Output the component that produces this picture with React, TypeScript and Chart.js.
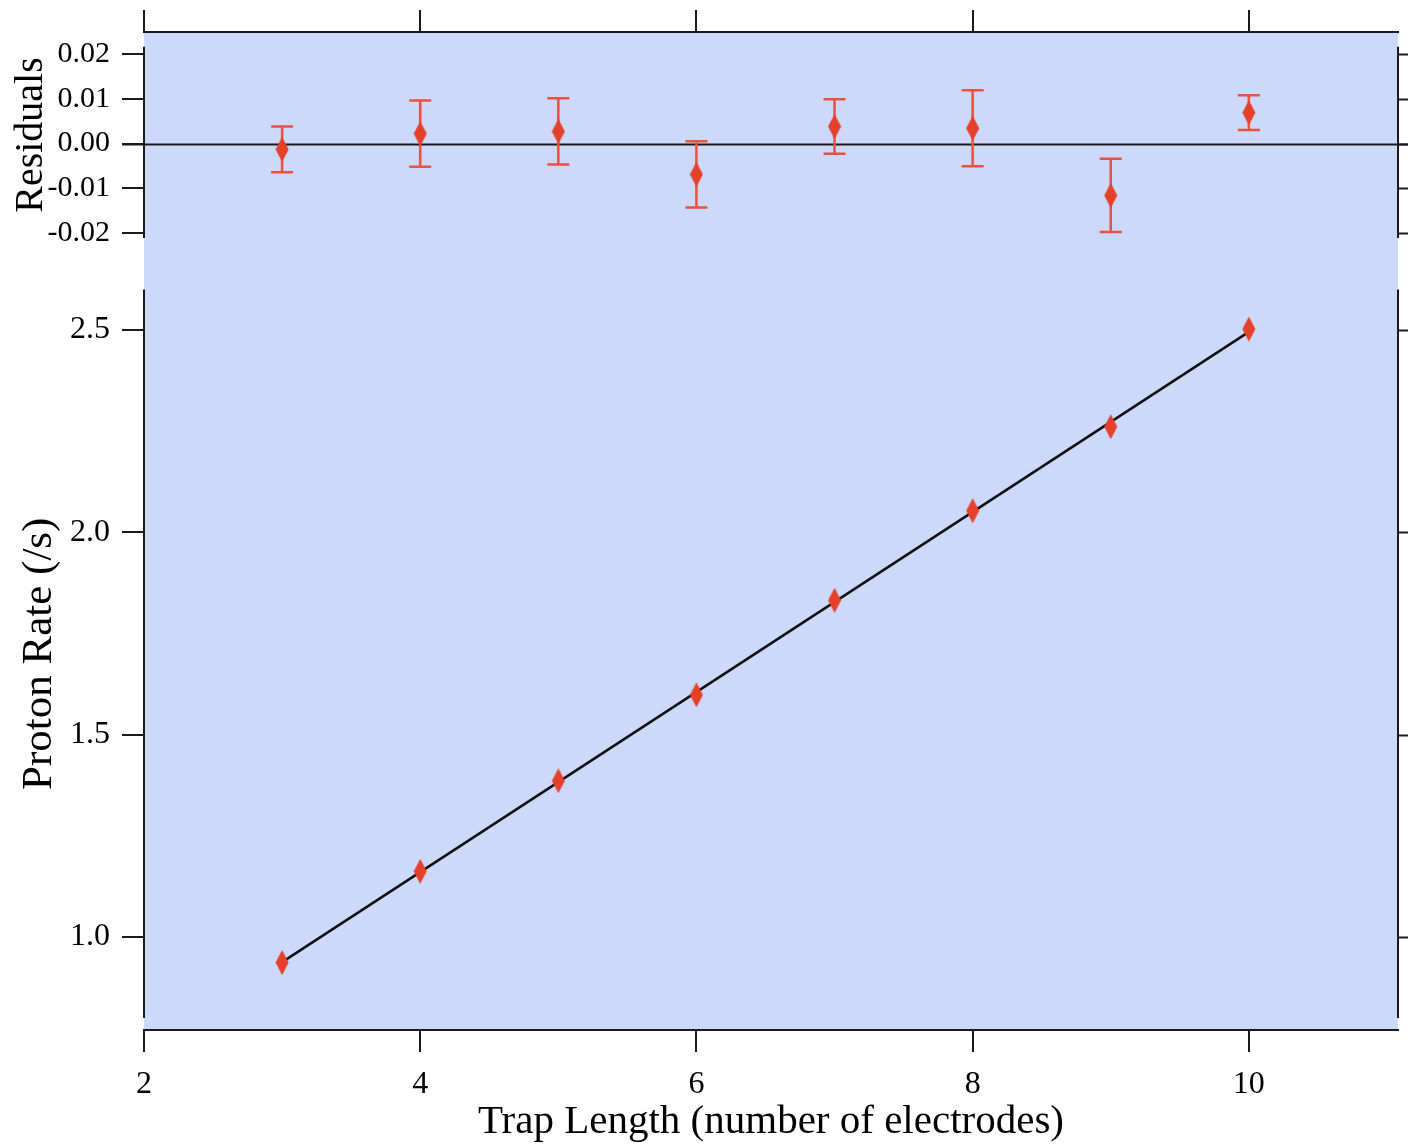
import React, { useEffect, useRef } from 'react';
import { Chart, registerables } from 'chart.js';

Chart.register(...registerables);

// ---- data ----
const trapLengths = [3, 4, 5, 6, 7, 8, 9, 10];
const protonRates = [0.937, 1.1625, 1.386, 1.5985, 1.832, 2.0535, 2.261, 2.5025];
const fitX = [3, 10];
const fitY = [0.938, 2.4955];
const residuals = [-0.0013, 0.0022, 0.0027, -0.0069, 0.0038, 0.0034, -0.0116, 0.0069];
const residualErrors = [0.0051, 0.0074, 0.0074, 0.0074, 0.0061, 0.0085, 0.0082, 0.0039];
const xTicks = [2, 4, 6, 8, 10];
const residualTicks = [0.02, 0.01, 0, -0.01, -0.02];
const rateTicks = [1.0, 1.5, 2.0, 2.5];
const residualAxisSpan = [-0.0211, 0.0216];
const rateAxisSpan = [0.8, 2.6];

const BG = 'rgb(204,217,250)';
const RED = 'rgb(228,64,42)';
const ERR = 'rgb(232,82,62)';
const AXIS = '#1a1a1a';
const SERIF = '"Liberation Serif", "Times New Roman", serif';

function makeDiamond(): HTMLCanvasElement {
  const c = document.createElement('canvas');
  c.width = 14;
  c.height = 25;
  const g = c.getContext('2d')!;
  g.fillStyle = RED;
  g.beginPath();
  g.moveTo(7, 0);
  g.lineTo(13.5, 12.5);
  g.lineTo(7, 25);
  g.lineTo(0.5, 12.5);
  g.closePath();
  g.fill();
  return c;
}

const panelPlugin = {
  id: 'panels',
  beforeDraw(chart: any) {
    const { ctx, chartArea: a } = chart;
    ctx.save();
    ctx.fillStyle = BG;
    ctx.fillRect(a.left, a.top, a.right - a.left, a.bottom - a.top);
    ctx.restore();
  },
  beforeDatasetsDraw(chart: any) {
    const { ctx, chartArea: a } = chart;
    const xs = chart.scales.x;
    const yr = chart.scales.yr;
    ctx.save();
    // zero line
    const y0 = Math.round(yr.getPixelForValue(0)) + 0.5;
    ctx.strokeStyle = AXIS;
    ctx.lineWidth = 2;
    ctx.beginPath();
    ctx.moveTo(a.left - 22, y0);
    ctx.lineTo(chart.width, y0);
    ctx.stroke();
    // error bars
    ctx.strokeStyle = ERR;
    ctx.lineWidth = 2.5;
    for (let i = 0; i < trapLengths.length; i++) {
      const px = xs.getPixelForValue(trapLengths[i]);
      const top = yr.getPixelForValue(residuals[i] + residualErrors[i]);
      const bot = yr.getPixelForValue(residuals[i] - residualErrors[i]);
      ctx.beginPath();
      ctx.moveTo(px, top);
      ctx.lineTo(px, bot);
      ctx.moveTo(px - 11, top);
      ctx.lineTo(px + 11, top);
      ctx.moveTo(px - 11, bot);
      ctx.lineTo(px + 11, bot);
      ctx.stroke();
    }
    ctx.restore();
  },
  afterDraw(chart: any) {
    const { ctx, chartArea: a } = chart;
    const yr = chart.scales.yr;
    const y = chart.scales.y;
    ctx.save();
    ctx.strokeStyle = AXIS;
    ctx.lineWidth = 2;
    const L = a.left;
    const R = Math.round(a.right);
    const segs: [any, number[]][] = [
      [yr, residualAxisSpan],
      [y, rateAxisSpan],
    ];
    for (const [s, span] of segs) {
      const p1 = s.getPixelForValue(span[0]);
      const p2 = s.getPixelForValue(span[1]);
      ctx.beginPath();
      ctx.moveTo(L, p1);
      ctx.lineTo(L, p2);
      ctx.moveTo(R, p1);
      ctx.lineTo(R, p2);
      ctx.stroke();
      for (const t of s.ticks) {
        const py = Math.round(s.getPixelForValue(t.value)) + 0.5;
        ctx.beginPath();
        ctx.moveTo(R, py);
        ctx.lineTo(R + 22, py);
        ctx.stroke();
      }
    }
    // y titles
    ctx.fillStyle = '#000';
    ctx.textAlign = 'center';
    ctx.textBaseline = 'middle';
    ctx.save();
    ctx.font = '40px ' + SERIF;
    ctx.translate(31, yr.getPixelForValue(0) - 8.5);
    ctx.rotate(-Math.PI / 2);
    ctx.fillText('Residuals', 0, 0);
    ctx.restore();
    ctx.save();
    ctx.font = '43px ' + SERIF;
    const mid = (y.getPixelForValue(rateAxisSpan[0]) + y.getPixelForValue(rateAxisSpan[1])) / 2;
    ctx.translate(40, mid);
    ctx.rotate(-Math.PI / 2);
    ctx.fillText('Proton Rate (/s)', 0, 0);
    ctx.restore();
    ctx.restore();
  },
};

export default function App() {
  const ref = useRef<HTMLCanvasElement>(null);

  useEffect(() => {
    if (!ref.current) return;
    const diamond = makeDiamond();
    const tickGrid = {
      drawOnChartArea: false,
      drawTicks: true,
      tickLength: 22,
      color: AXIS,
      lineWidth: 2,
    };
    const chart = new Chart(ref.current, {
      type: 'scatter',
      data: {
        datasets: [
          {
            label: 'Residuals',
            data: trapLengths.map((x, i) => ({ x, y: residuals[i] })),
            yAxisID: 'yr',
            pointStyle: diamond as any,
            pointRadius: 8,
            showLine: false,
          },
          {
            label: 'Proton Rate',
            data: trapLengths.map((x, i) => ({ x, y: protonRates[i] })),
            yAxisID: 'y',
            pointStyle: diamond as any,
            pointRadius: 8,
            showLine: false,
          },
          {
            label: 'Fit',
            type: 'line',
            data: fitX.map((x, i) => ({ x, y: fitY[i] })),
            yAxisID: 'y',
            borderColor: '#111',
            borderWidth: 2.5,
            pointRadius: 0,
            showLine: true,
            fill: false,
          } as any,
        ],
      },
      options: {
        animation: false,
        responsive: false,
        devicePixelRatio: 1,
        layout: { padding: { left: 0, right: 10, top: 0, bottom: 0 } },
        plugins: { legend: { display: false }, tooltip: { enabled: false } },
        scales: {
          x: {
            type: 'linear',
            position: 'bottom',
            min: 2,
            max: 11.08,
            afterBuildTicks: (s: any) => {
              s.ticks = xTicks.map((v) => ({ value: v }));
            },
            afterFit: (s: any) => {
              s.height = 115;
            },
            grid: tickGrid,
            border: { display: true, color: AXIS, width: 2 },
            ticks: {
              color: '#000',
              padding: 13,
              maxRotation: 0,
              autoSkip: false,
              font: { family: SERIF, size: 32 },
              callback: (v: any) => String(v),
            },
            title: {
              display: true,
              text: 'Trap Length (number of electrodes)',
              color: '#000',
              font: { family: SERIF, size: 41, lineHeight: 1.2 },
              padding: { top: 0, bottom: -2 },
            },
          },
          xt: {
            type: 'linear',
            position: 'top',
            min: 2,
            max: 11.08,
            afterBuildTicks: (s: any) => {
              s.ticks = xTicks.map((v) => ({ value: v }));
            },
            afterFit: (s: any) => {
              s.height = 32;
            },
            grid: tickGrid,
            border: { display: true, color: AXIS, width: 2 },
            ticks: { display: false, autoSkip: false },
          },
          y: {
            type: 'linear',
            position: 'left',
            stack: 'panels',
            stackWeight: 767,
            min: 0.7702,
            max: 2.6656,
            afterBuildTicks: (s: any) => {
              s.ticks = rateTicks.map((v) => ({ value: v }));
            },
            afterFit: (s: any) => {
              s.width = 144;
            },
            grid: tickGrid,
            border: { display: false },
            ticks: {
              color: '#000',
              padding: 12,
              autoSkip: false,
              font: { family: SERIF, size: 32 },
              callback: (v: any) => Number(v).toFixed(1),
            },
          },
          yr: {
            type: 'linear',
            position: 'left',
            stack: 'panels',
            stackWeight: 231,
            min: -0.0267,
            max: 0.02492,
            afterBuildTicks: (s: any) => {
              s.ticks = residualTicks.map((v) => ({ value: v }));
            },
            afterFit: (s: any) => {
              s.width = 144;
            },
            grid: tickGrid,
            border: { display: false },
            ticks: {
              color: '#000',
              padding: 12,
              autoSkip: false,
              font: { family: SERIF, size: 30 },
              callback: (v: any) => Number(v).toFixed(2),
            },
          },
        },
      } as any,
      plugins: [panelPlugin],
    });
    return () => chart.destroy();
  }, []);

  return (
    <div style={{ position: 'absolute', left: 0, top: 0, width: 1408, height: 1145, background: '#fff' }}>
      <canvas ref={ref} width={1408} height={1145} style={{ display: 'block' }} />
    </div>
  );
}
